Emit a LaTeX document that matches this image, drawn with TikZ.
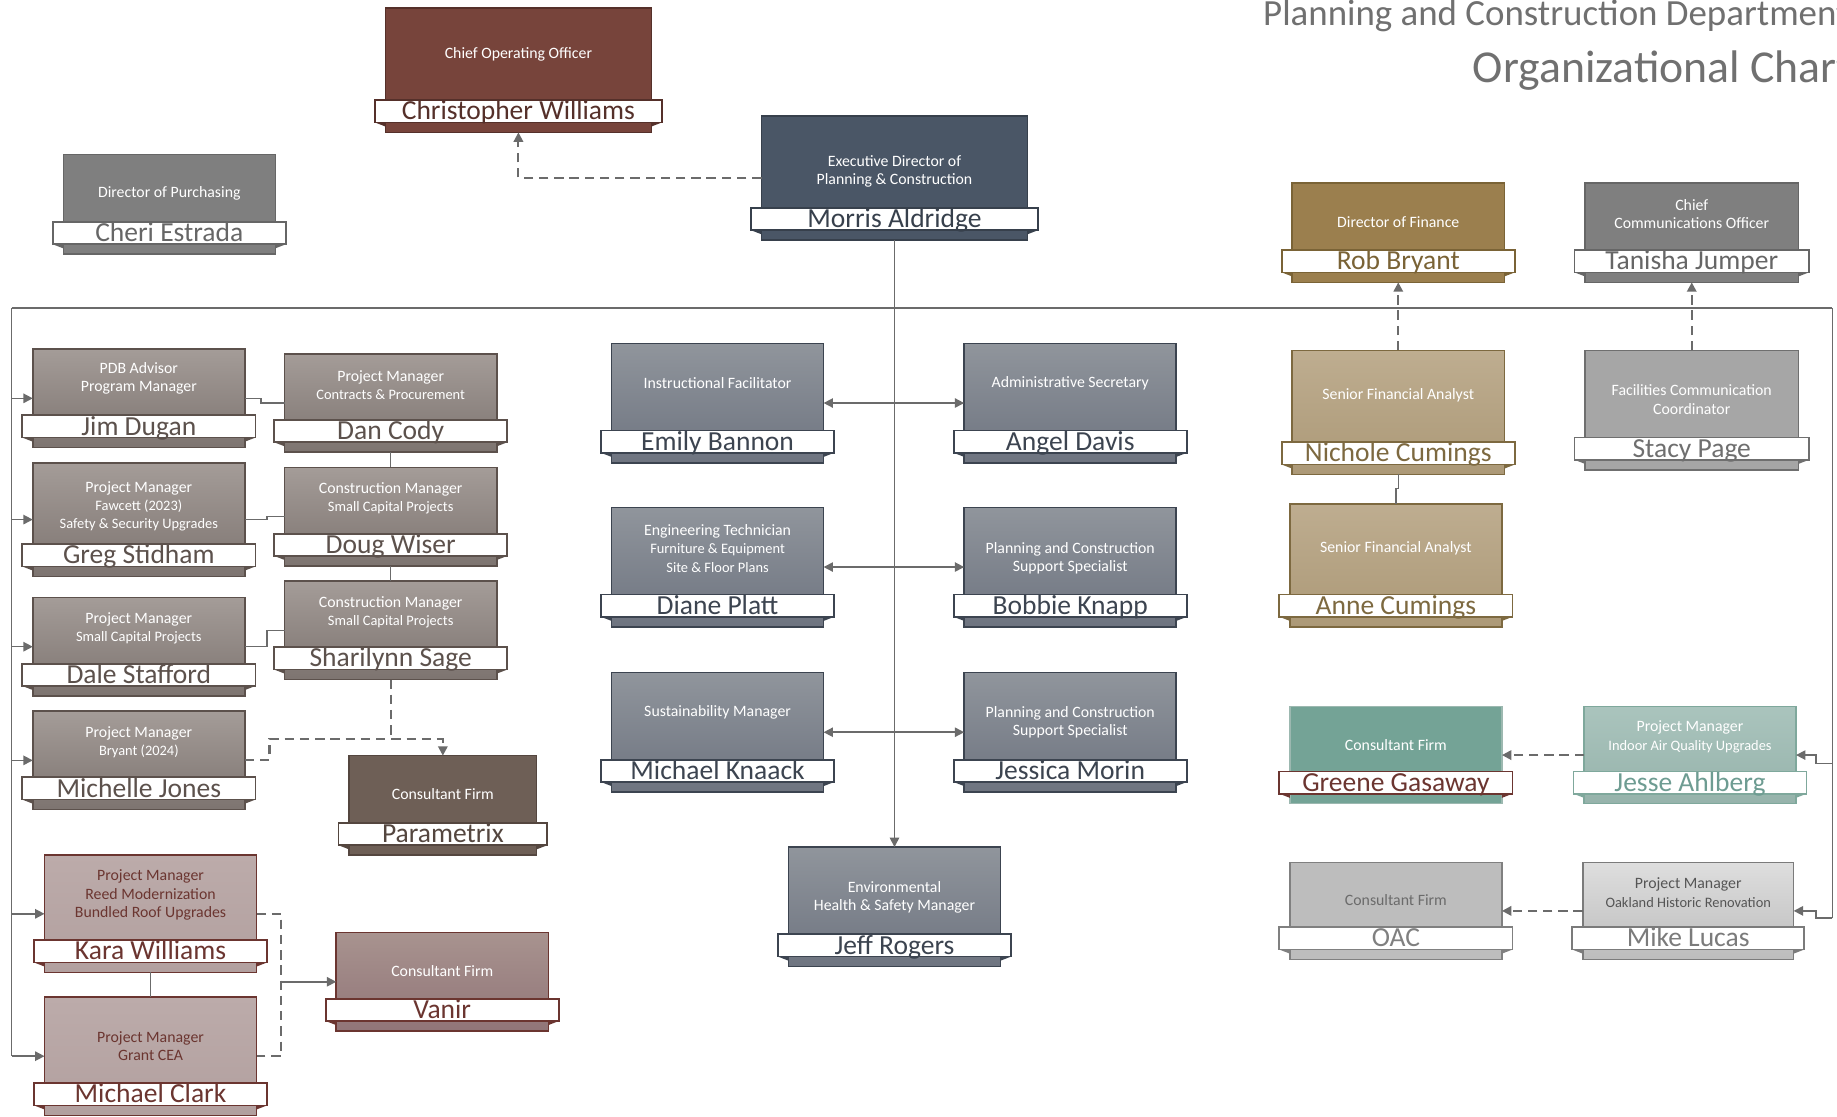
\documentclass[tikz,border=0pt]{standalone}
\usepackage{fontspec}
\setmainfont{Carlito}
\usetikzlibrary{arrows.meta,calc}

\definecolor{cooF}{HTML}{77443B}\definecolor{cooD}{HTML}{55302A}
\definecolor{exF}{HTML}{4A5666}\definecolor{exD}{HTML}{37404C}
\definecolor{gyF}{HTML}{7F7F7F}\definecolor{gyD}{HTML}{666666}
\definecolor{finF}{HTML}{9B7F4E}\definecolor{finD}{HTML}{7A6336}
\definecolor{pmT}{HTML}{A49C98}\definecolor{pmB}{HTML}{7D7470}\definecolor{pmD}{HTML}{5C514C}
\definecolor{parF}{HTML}{6E5F56}\definecolor{parD}{HTML}{54463F}
\definecolor{roT}{HTML}{BCABAA}\definecolor{roB}{HTML}{B2A09F}\definecolor{roD}{HTML}{6B3530}
\definecolor{vaT}{HTML}{A8938F}\definecolor{vaB}{HTML}{917578}
\definecolor{slT}{HTML}{90959C}\definecolor{slB}{HTML}{6E7480}\definecolor{slD}{HTML}{3C4450}
\definecolor{taT}{HTML}{BEAD90}\definecolor{taB}{HTML}{AC9977}\definecolor{taD}{HTML}{7D6940}
\definecolor{lgF}{HTML}{A6A6A6}\definecolor{lgD}{HTML}{6F6F6F}
\definecolor{teF}{HTML}{74A396}\definecolor{teL}{HTML}{9CB8B0}
\definecolor{ltT}{HTML}{AAC4BD}\definecolor{ltB}{HTML}{96B3AB}\definecolor{ltD}{HTML}{7FA89C}\definecolor{ltN}{HTML}{6E9C92}
\definecolor{oaF}{HTML}{BDBDBD}\definecolor{oaD}{HTML}{808080}\definecolor{oaR}{HTML}{6B6B6B}
\definecolor{siT}{HTML}{DEDEDE}\definecolor{siB}{HTML}{BCBCBC}\definecolor{siD}{HTML}{7B7B7B}\definecolor{siR}{HTML}{555555}
\definecolor{lineC}{HTML}{6B6B6B}
\definecolor{titleC}{HTML}{707070}

\newcommand{\subl}[1]{{\fontsize{12.3}{15.6}\selectfont #1}}

\tikzset{
  box/.style={rectangle, inner sep=0pt, outer sep=0pt, line width=1.3pt},
  bar/.style={rectangle, fill=white, inner sep=0pt, outer sep=0pt, minimum height=19pt, line width=1.5pt},
  role/.style={align=center, text=white, font=\fontsize{13.5}{15.6}\selectfont, inner sep=0pt},
  pname/.style={font=\fontsize{23.5}{25}\selectfont, inner sep=0pt, anchor=base},
  conn/.style={draw=lineC, line width=1.3pt},
  dconn/.style={draw=lineC, line width=1.8pt, dash pattern=on 8pt off 5pt},
  arr/.style={-{Triangle[length=8pt,width=8pt]}},
  darr/.style={{Triangle[length=8pt,width=8pt]}-{Triangle[length=8pt,width=8pt]}},
  mktheme/.style n args={6}{
    #1 box/.style={top color=#2, bottom color=#3, draw=#4},
    #1 bar/.style={draw=#5},
    #1 fold/.style={fill=#5},
    #1 name/.style={text=#6},
    #1 role/.style={}
  },
}
\tikzset{
  mktheme={coo}{cooF}{cooF}{cooD}{cooD}{cooD},
  mktheme={exec}{exF}{exF}{exD}{exD}{exD},
  mktheme={gray}{gyF}{gyF}{gyD}{gyD}{gyD},
  mktheme={fin}{finF}{finF}{finD}{finD}{finD},
  mktheme={pm}{pmT}{pmB}{pmD}{pmD}{pmD},
  mktheme={param}{parF}{parF}{parD}{parD}{parD},
  mktheme={rose}{roT}{roB}{roD}{roD}{roD},
  mktheme={vanir}{vaT}{vaB}{roD}{roD}{roD},
  mktheme={slate}{slT}{slB}{slD}{slD}{slD},
  mktheme={tan}{taT}{taB}{taD}{taD}{taD},
  mktheme={lgray}{lgF}{lgF}{lgD}{lgD}{lgD},
  mktheme={teal}{teF}{teF}{teL}{roD}{roD},
  mktheme={lteal}{ltT}{ltB}{ltD}{ltD}{ltN},
  mktheme={oac}{oaF}{oaF}{oaD}{oaD}{oaD},
  mktheme={silver}{siT}{siB}{siD}{siD}{siD},
}
\tikzset{
  rose role/.style={text=roD},
  oac role/.style={text=oaR},
  silver role/.style={text=siR},
}

% #1 id, #2 theme, #3 left, #4 top, #5 right, #6 bottom, #7 role, #8 name, #9 role centre y
\newcommand{\orgbox}[9]{%
  \node[box,#2 box,anchor=north west,minimum width={(#5-#3)*1pt},minimum height={(#6-#4)*1pt}] (#1) at (#3,#4) {};
  \node[bar,#2 bar,anchor=south,minimum width={(#5-#3+18)*1pt}] (#1-bar) at ($(#1.south)+(0,-8.5)$) {};
  \fill[#2 fold] (#1-bar.south west) -- ($(#1-bar.south west)+(9,0)$) -- ($(#1-bar.south west)+(9,3.5)$) -- cycle;
  \fill[#2 fold] (#1-bar.south east) -- ($(#1-bar.south east)+(-9,0)$) -- ($(#1-bar.south east)+(-9,3.5)$) -- cycle;
  \node[role,#2 role] (#1-role) at ({(#3+#5)/2},#9) {#7};
  \node[pname,#2 name] (#1-name) at ($(#1-bar.south)+(0,-2.2)$) {#8};
}

\begin{document}
\begin{tikzpicture}[x=1pt,y=-1pt]
\useasboundingbox (0,0) rectangle (1568,953);
\clip (0,0) rectangle (1568,953);
\fill[white] (0,0) rectangle (1568,953);

% title
\node[anchor=base west, text=titleC, font=\fontsize{31.5}{36}\selectfont, inner sep=0pt] (t1) at (1078,22) {Planning and Construction Department};
\node[anchor=base west, text=titleC, font=\fontsize{39}{44}\selectfont, inner sep=0pt] (t2) at (1257,70) {Organizational Chart};

% top row
\orgbox{coo}{coo}{329}{7}{556}{113}{Chief Operating Officer}{Christopher Williams}{46}
\orgbox{exec}{exec}{650}{99}{877}{205}{Executive Director of\\Planning \& Construction}{Morris Aldridge}{146}
\orgbox{purch}{gray}{54}{132}{235}{217}{Director of Purchasing}{Cheri Estrada}{165}
\orgbox{fin}{fin}{1103}{156}{1284}{241}{Director of Finance}{Rob Bryant}{190}
\orgbox{cco}{gray}{1353}{156}{1535}{241}{Chief\\Communications Officer}{Tanisha Jumper}{182.5}

% left column
\orgbox{jim}{pm}{28}{298}{209}{382}{PDB Advisor\\Program Manager}{Jim Dugan}{323}
\orgbox{greg}{pm}{28}{395}{209}{492}{Project Manager\\\subl{Fawcett (2023)}\\\subl{Safety \& Security Upgrades}}{Greg Stidham}{432}
\orgbox{dale}{pm}{28}{510}{209}{594}{Project Manager\\\subl{Small Capital Projects}}{Dale Stafford}{536.5}
\orgbox{michelle}{pm}{28}{607}{209}{691}{Project Manager\\\subl{Bryant (2024)}}{Michelle Jones}{633.5}
\orgbox{dan}{pm}{243}{302}{424}{386}{Project Manager\\\subl{Contracts \& Procurement}}{Dan Cody}{328.5}
\orgbox{doug}{pm}{243}{399}{424}{483}{Construction Manager\\\subl{Small Capital Projects}}{Doug Wiser}{425.5}
\orgbox{sage}{pm}{243}{496}{424}{580}{Construction Manager\\\subl{Small Capital Projects}}{Sharilynn Sage}{522.5}
\orgbox{param}{param}{298}{645}{458}{730}{Consultant Firm}{Parametrix}{678}
\orgbox{kara}{rose}{38}{730}{219}{830}{Project Manager\\Reed Modernization\\Bundled Roof Upgrades}{Kara Williams}{764}
\orgbox{clark}{rose}{38}{851}{219}{952}{Project Manager\\Grant CEA}{Michael Clark}{893}
\orgbox{vanir}{vanir}{287}{796}{468}{880}{Consultant Firm}{Vanir}{829}

% centre
\orgbox{instr}{slate}{522}{293}{703}{395}{Instructional Facilitator}{Emily Bannon}{327}
\orgbox{admin}{slate}{823}{293}{1004}{395}{Administrative Secretary}{Angel Davis}{327}
\orgbox{eng}{slate}{522}{433}{703}{535}{Engineering Technician\\\subl{Furniture \& Equipment}\\\subl{Site \& Floor Plans}}{Diane Platt}{468}
\orgbox{bob}{slate}{823}{433}{1004}{535}{Planning and Construction\\Support Specialist}{Bobbie Knapp}{476.5}
\orgbox{sus}{slate}{522}{574}{703}{676}{Sustainability Manager}{Michael Knaack}{608}
\orgbox{jess}{slate}{823}{574}{1004}{676}{Planning and Construction\\Support Specialist}{Jessica Morin}{616.5}
\orgbox{env}{slate}{673}{723}{854}{825}{Environmental\\Health \& Safety Manager}{Jeff Rogers}{766}

% right
\orgbox{nich}{tan}{1103}{299}{1284}{405}{Senior Financial Analyst}{Nichole Cumings}{337}
\orgbox{anne}{tan}{1101}{430}{1282}{535}{Senior Financial Analyst}{Anne Cumings}{468}
\orgbox{stacy}{lgray}{1353}{299}{1535}{401}{Facilities Communication\\Coordinator}{Stacy Page}{341}
\orgbox{greene}{teal}{1101}{603}{1282}{686}{Consultant Firm}{Greene Gasaway}{636}
\orgbox{jesse}{lteal}{1352}{603}{1533}{686}{Project Manager\\\subl{Indoor Air Quality Upgrades}}{Jesse Ahlberg}{629}
\orgbox{oac}{oac}{1101}{736}{1282}{819}{Consultant Firm}{OAC}{768}
\orgbox{mike}{silver}{1351}{736}{1531}{819}{Project Manager\\\subl{Oakland Historic Renovation}}{Mike Lucas}{762}

% connectors
\coordinate (busL) at (10,263);
\coordinate (busR) at (1564,263);
\draw[conn] (busL) -- (busR);
\draw[conn] (busL) -- (busL |- clark.west);
\foreach \n in {jim,greg,dale,michelle,kara,clark}
  \draw[conn,arr] (busL |- \n.west) -- (\n.west);
\coordinate (mkR) at ($(busR |- mike.east)+(0,6)$);
\coordinate (jsR) at ($(busR |- jesse.east)+(0,7)$);
\draw[conn] (busR) -- (mkR);
\draw[conn,arr] (jsR) -- ++(-14,0) |- (jesse.east);
\draw[conn,arr] (mkR) -- ++(-14,0) |- (mike.east);

\draw[conn,arr] (exec.south) -- (env.north);
\draw[dconn,arr] (exec.west) -| (coo.south);

\draw[conn,darr] (instr.east) -- (admin.west);
\draw[conn,darr] (eng.east) -- (bob.west);
\draw[conn,darr] (sus.east) -- (jess.west);

\draw[conn] (jim.east) -- ++(14,0) |- (dan.west);
\draw[conn] (greg.east) -- ++(19,0) |- (doug.west);
\draw[conn] (dale.east) -- ++(19,0) |- (sage.west);
\draw[conn] (dan.south) -- (doug.north);
\draw[conn] (doug.south) -- (sage.north);
\coordinate (pj) at ($(sage.south)+(0,51)$);
\draw[dconn] (sage.south) -- (pj);
\draw[dconn,arr] (michelle.east) -- ++(21,0) |- (pj) -| (param.north);

\coordinate (kv) at ($(kara.east)+(21,0)$);
\draw[dconn] (kara.east) -- (kv) |- (clark.east);
\draw[conn,arr] (kv |- vanir.west) -- (vanir.west);
\draw[conn] (kara.south) -- (clark.north);

\draw[dconn,arr] (nich.north) -- (fin.south);
\draw[dconn,arr] (stacy.north) -- (cco.south);
\draw[conn] (nich.south) -- ++(0,12) -| (anne.north);
\draw[dconn,arr] (jesse.west) -- (greene.east);
\draw[dconn,arr] (mike.west) -- (oac.east);
\end{tikzpicture}
\end{document}
